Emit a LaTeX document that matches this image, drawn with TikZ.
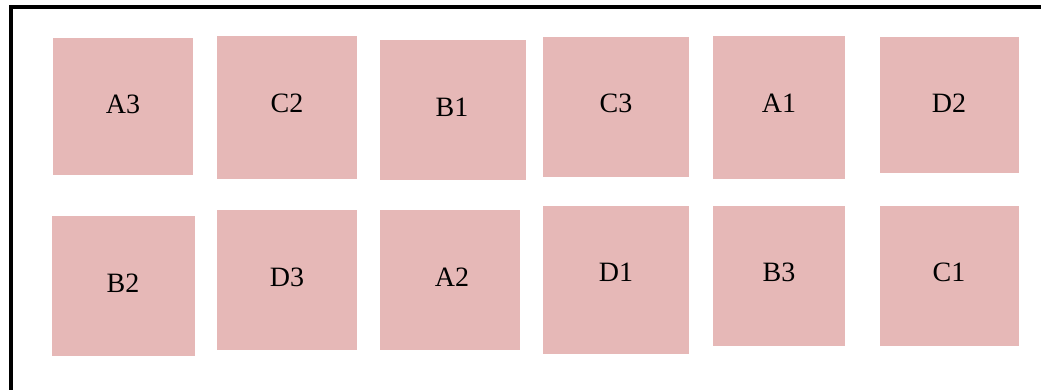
\documentclass[tikz,border=0pt]{standalone}
\usepackage{fontspec}
\setmainfont{Liberation Serif}
\definecolor{cellpink}{HTML}{E6B8B7}
\tikzset{
  cellbox/.style={fill=cellpink, draw=none, inner sep=0pt, outer sep=0pt},
  celltext/.style={inner sep=0pt, font=\fontsize{28}{34}\selectfont, text=black},
  frameline/.style={line width=4pt, draw=black}
}
\newcommand{\mycell}[8]{%
  \pgfmathsetmacro{\cw}{#4-#2}%
  \pgfmathsetmacro{\ch}{#5-#3}%
  \node[cellbox, minimum width=\cw pt, minimum height=\ch pt] (#1) at ({(#2+#4)/2},{(#3+#5)/2}) {};
  \node[celltext] (#1t) at (#7,#8) {#6};
}
\begin{document}
\begin{tikzpicture}[x=1pt,y=-1pt]
\useasboundingbox (0,0) rectangle (1041,390);
\coordinate (fbl) at (10.5,400);
\coordinate (ftl) at (10.5,7);
\coordinate (ftr) at (1050,7);
\draw[frameline] (fbl) -- (ftl) -- (ftr);
% row 1
\mycell{a3}{53}{38}{193}{175}{A3}{123}{104}
\mycell{c2}{217}{36}{357}{179}{C2}{287}{103}
\mycell{b1}{380}{40}{526}{180}{B1}{452}{107}
\mycell{c3}{543}{37}{689}{177}{C3}{616}{103}
\mycell{a1}{713}{36}{845}{179}{A1}{779}{103}
\mycell{d2}{880}{37}{1019}{173}{D2}{949}{103}
% row 2
\mycell{b2}{52}{216}{195}{356}{B2}{123}{283}
\mycell{d3}{217}{210}{357}{350}{D3}{287}{277}
\mycell{a2}{380}{210}{520}{350}{A2}{452}{277}
\mycell{d1}{543}{206}{689}{354}{D1}{616}{272}
\mycell{b3}{713}{206}{845}{346}{B3}{779}{272}
\mycell{c1}{880}{206}{1019}{346}{C1}{949}{272}
\end{tikzpicture}
\end{document}
